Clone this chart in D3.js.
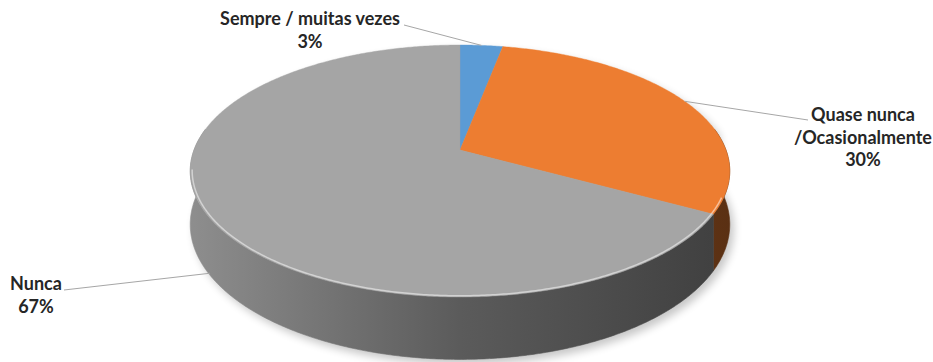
<!DOCTYPE html>
<html>
<head>
<meta charset="utf-8">
<script src="https://cdn.jsdelivr.net/npm/d3@7"></script>
<style>
  html, body { margin: 0; padding: 0; background: #ffffff; }
  svg { display: block; }
  .lbl { font-family: Lato, "Open Sans", sans-serif; font-weight: 700; font-size: 18px; fill: #262626; }
</style>
</head>
<body>
<svg id="chart" width="933" height="362"></svg>
<script>
// Chart data
const categories = ["Sempre / muitas vezes", "Quase nunca /Ocasionalmente", "Nunca"];
const values = [3, 30, 67];
const labelLines = [["Sempre / muitas vezes"], ["Quase nunca", "/Ocasionalmente"], ["Nunca"]];
const percentLabels = ["3%", "30%", "67%"];
const sliceColors = ["#5b9bd5", "#ed7d31", "#a5a5a5"];

const svg = d3.select("#chart");

// 3D tilted disc with perspective: apex, half-axes, perspective factor, thickness
const cx = 460, cy = 150;
const A = 266, B = 122.5, persp = 0.1667, depth = 52;

// project polar angle (clockwise from 12 o'clock), radius fraction and height (0 = top, 1 = bottom)
function proj(phi, r = 1, z = 0) {
  const X = r * Math.sin(phi);
  const U = -r * Math.cos(phi);          // +1 towards viewer
  const den = 1 - persp * U;
  return [cx + A * X / den, cy + B * U / den + z * depth / den];
}

const color = d3.scaleOrdinal().domain(categories).range(sliceColors);
const pie = d3.pie().sort(null).value(d => d.value);
const data = categories.map((c, i) => ({ cat: c, value: values[i], lines: labelLines[i], pct: percentLabels[i] }));
const arcs = pie(data);

const defs = svg.append("defs");

// soft drop shadow
const blur = defs.append("filter").attr("id", "shadowBlur")
  .attr("x", "-20%").attr("y", "-20%").attr("width", "140%").attr("height", "140%");
blur.append("feGaussianBlur").attr("stdDeviation", 4);
const rimBlur = defs.append("filter").attr("id", "rimBlur");
rimBlur.append("feGaussianBlur").attr("stdDeviation", 0.7);

// side-wall shading: lighter on the left, darker on the right
const shadeStops = [[0, 0.86], [0.5, 0.55], [1, 0.38]];
arcs.forEach((a, i) => {
  const base = d3.rgb(color(a.data.cat));
  const g = defs.append("linearGradient").attr("id", "side" + i)
    .attr("gradientUnits", "userSpaceOnUse")
    .attr("x1", cx - A * 1.02).attr("x2", cx + A * 1.02).attr("y1", 0).attr("y2", 0);
  shadeStops.forEach(([o, f]) => {
    g.append("stop").attr("offset", o)
      .attr("stop-color", d3.rgb(base.r * f, base.g * f, base.b * f).formatHex());
  });
});

const line = d3.line();
const step = Math.PI / 360;
function sampleArc(a0, a1, r, z) {
  const pts = [];
  const n = Math.max(2, Math.ceil((a1 - a0) / step));
  for (let k = 0; k <= n; k++) pts.push(proj(a0 + (a1 - a0) * k / n, r, z));
  return pts;
}

// shadow under the disc
const outline = sampleArc(Math.PI * 0.45, Math.PI * 1.55, 1, 1).concat(sampleArc(Math.PI * 1.55, Math.PI * 2.45, 1, 0));
svg.append("path")
  .attr("d", line(outline) + "Z")
  .attr("transform", "translate(4,5)")
  .attr("fill", "#000").attr("opacity", 0.22)
  .attr("filter", "url(#shadowBlur)");

// visible side walls (front half only)
const frontA0 = Math.PI * 80 / 180, frontA1 = Math.PI * 280 / 180;
const walls = svg.append("g");
arcs.forEach((a, i) => {
  const s = Math.max(a.startAngle, frontA0), e = Math.min(a.endAngle, frontA1);
  if (e <= s) return;
  const top = sampleArc(s, e, 1, 0);
  const bottom = sampleArc(s, e, 1, 1).reverse();
  walls.append("path")
    .attr("d", line(top.concat(bottom)) + "Z")
    .attr("fill", `url(#side${i})`)
    .attr("stroke", `url(#side${i})`).attr("stroke-width", 0.6);
});

// top faces
const tops = svg.append("g");
arcs.forEach(a => {
  const pts = [proj(0, 0, 0)].concat(sampleArc(a.startAngle, a.endAngle, 1, 0));
  tops.append("path")
    .attr("d", line(pts) + "Z")
    .attr("fill", color(a.data.cat))
    .attr("stroke", color(a.data.cat)).attr("stroke-width", 0.4);
});

// bevel highlight along the front rim
svg.append("path")
  .attr("d", line(sampleArc(Math.PI * 0.62, Math.PI * 1.45, 0.993, 0)))
  .attr("fill", "none").attr("stroke", "#ffffff").attr("stroke-opacity", 0.5)
  .attr("stroke-width", 1.5).attr("filter", "url(#rimBlur)");

// data labels with leader lines
const labelPos = [
  { x: 310, y: 25, lead: [[404, 25]], end: 0.0 },
  { x: 863, y: 121, lead: [[808, 120]], end: 0.0 },
  { x: 36, y: 290, lead: [[64, 290]], end: 0.97 }
];
const lineH = 22.5;
const labels = svg.append("g");
arcs.forEach((a, i) => {
  const p = labelPos[i];
  const mid = (a.startAngle + a.endAngle) / 2;
  const tip = proj(mid, 1, p.end);
  labels.append("path")
    .attr("d", line(p.lead.concat([tip])))
    .attr("fill", "none").attr("stroke", "#a6a6a6").attr("stroke-width", 1);
  const t = labels.append("text").attr("class", "lbl").attr("text-anchor", "middle");
  a.data.lines.concat([a.data.pct]).forEach((s, k) => {
    t.append("tspan").attr("x", p.x).attr("y", p.y + k * lineH).text(s);
  });
});
</script>
</body>
</html>
